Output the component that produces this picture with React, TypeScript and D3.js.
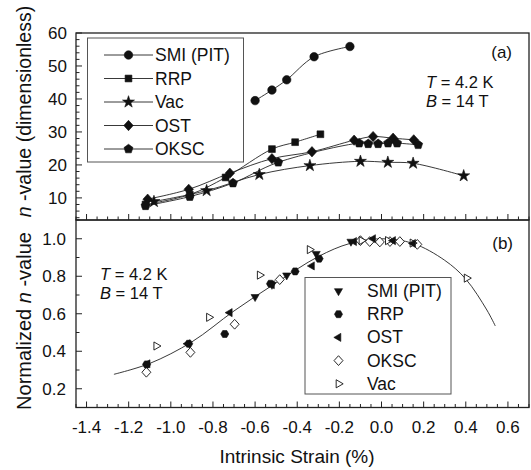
import React from "react";
import * as d3 from "d3";

// ---------- Data ----------
const xTicks = [-1.4, -1.2, -1.0, -0.8, -0.6, -0.4, -0.2, 0.0, 0.2, 0.4, 0.6];
const topYTicks = [10, 20, 30, 40, 50, 60];
const botYTicks = [0.2, 0.4, 0.6, 0.8, 1.0];

// Panel (a): n-value vs intrinsic strain
const smiX = [-0.6, -0.52, -0.45, -0.32, -0.15];
const smiY = [39.5, 42.7, 45.8, 52.8, 55.9];
const rrpX = [-1.12, -0.91, -0.74, -0.52, -0.41, -0.29];
const rrpY = [8.0, 11.0, 16.2, 24.8, 26.9, 29.3];
const vacX = [-1.08, -0.83, -0.58, -0.34, -0.1, 0.03, 0.15, 0.39];
const vacY = [8.9, 12.2, 17.1, 19.8, 21.1, 20.8, 20.5, 16.7];
const ostX = [-1.11, -0.915, -0.72, -0.52, -0.33, -0.13, -0.04, 0.055, 0.153];
const ostY = [9.6, 12.6, 17.5, 21.9, 24.0, 27.5, 28.6, 28.1, 27.6];
const okscX = [-1.12, -0.91, -0.705, -0.49, -0.106, -0.063, -0.016, 0.031, 0.074, 0.174];
const okscY = [7.6, 10.4, 14.5, 20.8, 26.6, 26.4, 26.4, 26.6, 26.6, 26.1];

// Panel (b): normalized n-value
const nSmiX = [-0.6, -0.52, -0.45, -0.31, -0.145];
const nSmiY = [0.69, 0.755, 0.805, 0.92, 0.985];
const nRrpX = [-1.115, -0.915, -0.744, -0.527, -0.41, -0.296];
const nRrpY = [0.33, 0.44, 0.492, 0.76, 0.826, 0.894];
const nOstX = [-1.11, -0.92, -0.72, -0.52, -0.33, -0.13, -0.04, 0.055, 0.15];
const nOstY = [0.333, 0.44, 0.606, 0.755, 0.855, 0.985, 1.0, 0.99, 0.975];
const nOkscX = [-1.116, -0.907, -0.697, -0.483, -0.1, -0.056, -0.008, 0.04, 0.087, 0.17];
const nOkscY = [0.288, 0.394, 0.544, 0.782, 0.99, 0.985, 0.983, 0.985, 0.985, 0.97];
const nVacX = [-1.069, -0.819, -0.578, -0.341, -0.095, 0.03, 0.147, 0.404];
const nVacY = [0.428, 0.581, 0.806, 0.942, 0.99, 0.99, 0.977, 0.79];

// Fitted curve in panel (b)
const fitX = [-1.27, -1.1, -0.9, -0.7, -0.5, -0.3, -0.15, 0.0, 0.15, 0.3, 0.4, 0.5, 0.54];
const fitY = [0.277, 0.335, 0.45, 0.615, 0.765, 0.905, 0.975, 1.0, 0.975, 0.885, 0.785, 0.62, 0.535];

// ---------- Layout ----------
const W = 531;
const H = 470;
const L = 76;
const R = 529;
const TOP_T = 33;
const MID = 220;
const BOT_B = 407.5;
const FONT = "'Liberation Sans', Arial, Helvetica, sans-serif";

const x = d3.scaleLinear().domain([-1.45, 0.7]).range([L, R]);
const yTop = d3.scaleLinear().domain([3.3, 60]).range([MID, TOP_T]);
const yBot = d3.scaleLinear().domain([0.1, 1.1]).range([BOT_B, MID]);

type Shape =
  | "circle" | "square" | "star" | "diamond" | "pentagon"
  | "triDown" | "triLeft" | "triRight" | "hexagon";

function polyPath(pts: [number, number][]) {
  return "M" + pts.map((p) => p[0].toFixed(2) + "," + p[1].toFixed(2)).join("L") + "Z";
}
function regular(n: number, r: number, rot: number) {
  const pts: [number, number][] = [];
  for (let i = 0; i < n; i++) {
    const a = rot + (i * 2 * Math.PI) / n;
    pts.push([r * Math.cos(a), r * Math.sin(a)]);
  }
  return polyPath(pts);
}
function shapePath(s: Shape, size: number): string {
  const r = size / 2;
  switch (s) {
    case "circle":
      return d3.symbol(d3.symbolCircle, Math.PI * r * r)() as string;
    case "square":
      return polyPath([[-r * 0.85, -r * 0.85], [r * 0.85, -r * 0.85], [r * 0.85, r * 0.85], [-r * 0.85, r * 0.85]]);
    case "star":
      return d3.symbol(d3.symbolStar, r * r * 2.2)() as string;
    case "diamond":
      return polyPath([[0, -r * 1.15], [r * 1.05, 0], [0, r * 1.15], [-r * 1.05, 0]]);
    case "pentagon":
      return regular(5, r * 1.05, -Math.PI / 2);
    case "hexagon":
      return regular(6, r * 0.95, 0);
    case "triDown":
      return regular(3, r * 1.1, Math.PI / 2);
    case "triLeft":
      return regular(3, r * 1.1, Math.PI);
    case "triRight":
      return regular(3, r * 1.1, 0);
  }
}

function Marker({ cx, cy, shape, size, filled }: { cx: number; cy: number; shape: Shape; size: number; filled: boolean }) {
  return (
    <path
      d={shapePath(shape, size)}
      transform={`translate(${cx},${cy})`}
      fill={filled ? "#111" : "#fff"}
      stroke="#111"
      strokeWidth={filled ? 0.6 : 0.9}
    />
  );
}

const topSeries: { name: string; xs: number[]; ys: number[]; shape: Shape; size: number }[] = [
  { name: "SMI (PIT)", xs: smiX, ys: smiY, shape: "circle", size: 8.5 },
  { name: "RRP", xs: rrpX, ys: rrpY, shape: "square", size: 8 },
  { name: "Vac", xs: vacX, ys: vacY, shape: "star", size: 9 },
  { name: "OST", xs: ostX, ys: ostY, shape: "diamond", size: 9 },
  { name: "OKSC", xs: okscX, ys: okscY, shape: "pentagon", size: 9 },
];

const botSeries: { name: string; xs: number[]; ys: number[]; shape: Shape; filled: boolean }[] = [
  { name: "SMI (PIT)", xs: nSmiX, ys: nSmiY, shape: "triDown", filled: true },
  { name: "RRP", xs: nRrpX, ys: nRrpY, shape: "hexagon", filled: true },
  { name: "OST", xs: nOstX, ys: nOstY, shape: "triLeft", filled: true },
  { name: "OKSC", xs: nOkscX, ys: nOkscY, shape: "diamond", filled: false },
  { name: "Vac", xs: nVacX, ys: nVacY, shape: "triRight", filled: false },
];
const botOrder = ["OKSC", "Vac", "RRP", "OST", "SMI (PIT)"];

function range(a: number, b: number, step: number) {
  const out: number[] = [];
  const n = Math.round((b - a) / step);
  for (let i = 0; i <= n; i++) out.push(+(a + i * step).toFixed(6));
  return out;
}

export default function App() {
  const line = (ys: d3.ScaleLinear<number, number>) =>
    d3
      .line<[number, number]>()
      .x((d) => x(d[0]))
      .y((d) => ys(d[1]))
      .curve(d3.curveCatmullRom.alpha(0.5));

  const xMinor = range(-1.45, 0.7, 0.05);
  const topMinor = range(4, 60, 2);
  const botMinor = range(0.1, 1.1, 0.1);
  const isMajor = (v: number, step: number) => Math.abs(v / step - Math.round(v / step)) < 1e-6;

  const axisStroke = "#222";
  const tickFs = 17;

  return (
    <svg
      width={W}
      height={H}
      style={{ position: "absolute", left: 0, top: 0, display: "block", background: "#fff" }}
      fontFamily={FONT}
    >
      <rect x={0} y={0} width={W} height={H} fill="#fff" />

      {/* ---------- Panel (a) ---------- */}
      <g>
        {topSeries.map((s) => (
          <path
            key={"tl" + s.name}
            d={line(yTop)(s.xs.map((v, i) => [v, s.ys[i]] as [number, number])) as string}
            fill="none"
            stroke="#222"
            strokeWidth={0.9}
          />
        ))}
        {topSeries.map((s) =>
          s.xs.map((v, i) => (
            <Marker key={"tm" + s.name + i} cx={x(v)} cy={yTop(s.ys[i])} shape={s.shape} size={s.size} filled />
          ))
        )}
        {/* legend */}
        <rect x={87.5} y={38} width={156} height={124} fill="none" stroke="#555" strokeWidth={1} />
        {topSeries.map((s, i) => {
          const ly = 55 + i * 23.5;
          return (
            <g key={"tleg" + s.name}>
              <line x1={104} x2={153} y1={ly} y2={ly} stroke="#222" strokeWidth={0.9} />
              <Marker cx={128.5} cy={ly} shape={s.shape} size={s.size} filled />
              <text x={155} y={ly + 6} fontSize={17.5} fill="#111">
                {s.name}
              </text>
            </g>
          );
        })}
        <text x={512} y={58} fontSize={17} textAnchor="end" fill="#111">(a)</text>
        <text x={426} y={88} fontSize={16.5} fill="#111">
          <tspan fontStyle="italic">T</tspan> = 4.2 K
        </text>
        <text x={426} y={107} fontSize={16.5} fill="#111">
          <tspan fontStyle="italic">B</tspan> = 14 T
        </text>

        {/* ticks */}
        {xMinor.map((v) => (
          <line key={"txt" + v} x1={x(v)} x2={x(v)} y1={MID} y2={MID - (isMajor(v, 0.2) ? 6 : 3.5)} stroke={axisStroke} strokeWidth={1} />
        ))}
        {topMinor.map((v) => (
          <line key={"tyt" + v} x1={L} x2={L + (isMajor(v, 10) ? 6 : 3.5)} y1={yTop(v)} y2={yTop(v)} stroke={axisStroke} strokeWidth={1} />
        ))}
        {topYTicks.map((v) => (
          <text key={"tyl" + v} x={67} y={yTop(v) + 6} fontSize={tickFs} textAnchor="end" fill="#111">
            {v}
          </text>
        ))}
        <rect x={L} y={TOP_T} width={R - L} height={MID - TOP_T} fill="none" stroke={axisStroke} strokeWidth={1.3} />
        <text
          transform={`translate(31,${(3 + 220) / 2}) rotate(-90)`}
          fontSize={19.5}
          textAnchor="middle"
          fill="#111"
        >
          <tspan fontStyle="italic">n</tspan> -value (dimensionless)
        </text>
      </g>

      {/* ---------- Panel (b) ---------- */}
      <g>
        <path
          d={line(yBot)(fitX.map((v, i) => [v, fitY[i]] as [number, number])) as string}
          fill="none"
          stroke="#222"
          strokeWidth={0.9}
        />
        {botOrder.map((nm) => {
          const s = botSeries.find((b) => b.name === nm)!;
          return s.xs.map((v, i) => (
            <Marker key={"bm" + s.name + i} cx={x(v)} cy={yBot(s.ys[i])} shape={s.shape} size={8.5} filled={s.filled} />
          ));
        })}
        {/* legend */}
        <rect x={305} y={277.5} width={146} height={116.5} fill="#fff" stroke="#555" strokeWidth={1} />
        {botSeries.map((s, i) => {
          const ly = 291 + i * 23.2;
          return (
            <g key={"bleg" + s.name}>
              <Marker cx={338.5} cy={ly} shape={s.shape} size={8.5} filled={s.filled} />
              <text x={367} y={ly + 6} fontSize={17.5} fill="#111">
                {s.name}
              </text>
            </g>
          );
        })}
        <text x={513} y={249} fontSize={17} textAnchor="end" fill="#111">(b)</text>
        <text x={100} y={280} fontSize={16.5} fill="#111">
          <tspan fontStyle="italic">T</tspan> = 4.2 K
        </text>
        <text x={100} y={299} fontSize={16.5} fill="#111">
          <tspan fontStyle="italic">B</tspan> = 14 T
        </text>

        {xMinor.map((v) => (
          <line key={"bxt" + v} x1={x(v)} x2={x(v)} y1={BOT_B} y2={BOT_B - (isMajor(v, 0.2) ? 6 : 3.5)} stroke={axisStroke} strokeWidth={1} />
        ))}
        {botMinor.map((v) => (
          <line key={"byt" + v} x1={L} x2={L + (isMajor(v, 0.2) ? 6 : 3.5)} y1={yBot(v)} y2={yBot(v)} stroke={axisStroke} strokeWidth={1} />
        ))}
        {botYTicks.map((v) => (
          <text key={"byl" + v} x={66} y={yBot(v) + 6} fontSize={tickFs} textAnchor="end" fill="#111">
            {v.toFixed(1)}
          </text>
        ))}
        {xTicks.map((v) => (
          <text key={"bxl" + v} x={x(v)} y={433} fontSize={tickFs} textAnchor="middle" fill="#111">
            {v.toFixed(1)}
          </text>
        ))}
        <rect x={L} y={MID} width={R - L} height={BOT_B - MID} fill="none" stroke={axisStroke} strokeWidth={1.3} />
        <text
          transform={`translate(31,321) rotate(-90)`}
          fontSize={20}
          textAnchor="middle"
          fill="#111"
        >
          Normalized <tspan fontStyle="italic">n</tspan> -value
        </text>
        <text x={297} y={463} fontSize={19} textAnchor="middle" fill="#111">
          Intrinsic Strain (%)
        </text>
      </g>
    </svg>
  );
}
